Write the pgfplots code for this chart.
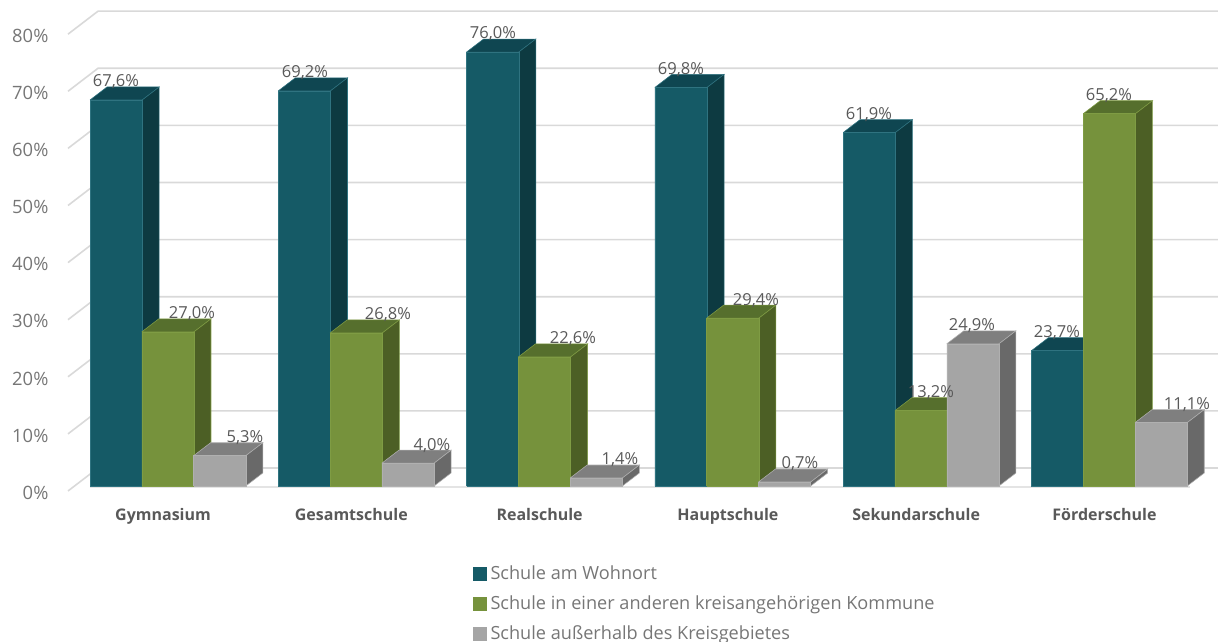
\documentclass[border=0pt]{standalone}
\usepackage{fontspec}
\setmainfont{Open Sans}
\usepackage{pgfplots}
\usepackage{pgfplotstable}
\pgfplotsset{compat=1.18}

\definecolor{tealF}{HTML}{155A66}
\definecolor{tealT}{HTML}{0F4651}
\definecolor{tealS}{HTML}{0D3A41}
\definecolor{tealE}{HTML}{2F7380}
\definecolor{oliveF}{HTML}{76923C}
\definecolor{oliveT}{HTML}{566F2D}
\definecolor{oliveS}{HTML}{4C5F25}
\definecolor{oliveE}{HTML}{7F9C44}
\definecolor{greyF}{HTML}{A5A5A5}
\definecolor{greyT}{HTML}{7F7F7F}
\definecolor{greyS}{HTML}{696969}
\definecolor{greyE}{HTML}{B0B0B0}
\definecolor{gridc}{HTML}{D9D9D9}
\definecolor{ticktext}{HTML}{767676}
\definecolor{labtext}{HTML}{595959}

% a, b, c = values in percent; la, lb, lc = x of the value label in px
\pgfplotstableread{
a    b    c    la   lb   lc
67.6 27.0 5.3  116  192  245
69.2 26.8 4.0  305  388  432
76.0 22.6 1.4  493  573  620
69.8 29.4 0.7  681  756  800
61.9 13.2 24.9 869  931  972
23.7 65.2 11.1 1057 1109 1187
}\schooldata

\pgfplotsset{vallabel/.style={
  forget plot,draw=none,mark=none,point meta=explicit,
  nodes near coords={\pgfmathprintnumber[fixed,fixed zerofill,precision=1,use comma,assume math mode=true]{\pgfplotspointmeta}\%},
  every node near coord/.style={font=\fontsize{12.4}{14}\selectfont,text=labtext,anchor=center,inner sep=0pt},
}}

% row, value column, label column, slot in the group, colour prefix
\newcommand{\drawbar}[5]{%
  \pgfplotstablegetelem{#1}{#2}\of\schooldata \let\val\pgfplotsretval
  \pgfplotstablegetelem{#1}{#3}\of\schooldata \let\lab\pgfplotsretval
  \pgfmathsetmacro\xl{#1+(-73+#4*51.8)/188.3}
  \pgfmathsetmacro\xr{\xl+52.2/188.3}
  \pgfmathsetmacro\xdl{\xl+17/188.3}
  \pgfmathsetmacro\xdr{\xr+17/188.3}
  \pgfmathsetmacro\yd{13/5.71}
  \pgfmathsetmacro\yt{\val+\yd}
  \pgfmathsetmacro\xlab{(\lab-163)/188.3}
  \pgfmathsetmacro\ylab{\val+3.15}
  \addplot[vallabel] coordinates {(\xlab,\ylab)[\val]};
  \addplot[forget plot,fill=#5T,draw=#5E,line width=0.4pt,mark=none]
    coordinates {(\xl,\val)(\xr,\val)(\xdr,\yt)(\xdl,\yt)(\xl,\val)};
  \addplot[forget plot,fill=#5S,draw=#5E,line width=0.4pt,mark=none]
    coordinates {(\xr,0)(\xdr,\yd)(\xdr,\yt)(\xr,\val)(\xr,0)};
  \addplot[forget plot,fill=#5F,draw=#5E,line width=0.4pt,mark=none]
    coordinates {(\xl,0)(\xr,0)(\xr,\val)(\xl,\val)(\xl,0)};
}

\begin{document}
\begin{tikzpicture}[x=1pt,y=1pt]
\path[use as bounding box] (0,0) rectangle (913.5,481.5);
\begin{axis}[
  at={(39pt,114pt)},anchor=south west,
  scale only axis,width=874.5pt,height=367.5pt,
  xmin=-0.5895,xmax=5.603,ymin=-0.7,ymax=85.11,
  clip=false,
  axis line style={draw=none},
  major tick length=0pt,
  xtick={0,...,5},
  xticklabels={Gymnasium,Gesamtschule,Realschule,Hauptschule,Sekundarschule,Förderschule},
  xticklabel style={font=\fontsize{12}{14}\selectfont\bfseries,text=labtext,anchor=north,inner sep=0pt,yshift=-13.8pt},
  ytick={0,10,...,80},
  yticklabels={0\%,10\%,20\%,30\%,40\%,50\%,60\%,70\%,80\%},
  yticklabel style={font=\fontsize{13.8}{16}\selectfont,text=ticktext,anchor=east,inner sep=0pt,xshift=-2.5pt,yshift=-5pt},
  legend image code/.code={\fill[#1] (0pt,-4.9pt) rectangle (9.8pt,4.9pt);},
  legend cell align=left,
  legend style={at={(0.361,-0.155)},anchor=north west,draw=none,fill=none,
    inner sep=0pt,outer sep=0pt,row sep=10.6pt,
    font=\fontsize{13.6}{15}\selectfont,text=ticktext,
    nodes={inner xsep=3pt,inner ysep=0pt}},
]
% back wall lines with their slanted ends
\pgfplotsinvokeforeach{0,10,...,80}{
  \pgfmathsetmacro\ga{(68-163)/188.3}
  \pgfmathsetmacro\gb{(98-163)/188.3}
  \pgfmathsetmacro\ya{#1-0.875}
  \pgfmathsetmacro\yb{#1+3.15}
  \addplot[forget plot,gridc,line width=1.2pt,mark=none]
    coordinates {(\ga,\ya)(\gb,\yb)(5.603,\yb)};
}
% floor edge in front
\pgfmathsetmacro\fa{(90-163)/188.3}
\pgfmathsetmacro\fb{(1190-163)/188.3}
\addplot[forget plot,gridc!70,line width=1pt,mark=none] coordinates {(\fa,-0.15)(\fb,-0.15)};

\pgfplotsinvokeforeach{0,...,5}{
  \drawbar{#1}{a}{la}{0}{teal}
  \drawbar{#1}{b}{lb}{1}{olive}
  \drawbar{#1}{c}{lc}{2}{grey}
}

\addlegendimage{tealF}
\addlegendentry{Schule am Wohnort}
\addlegendimage{oliveF}
\addlegendentry{Schule in einer anderen kreisangehörigen Kommune}
\addlegendimage{greyF}
\addlegendentry{Schule außerhalb des Kreisgebietes}
\end{axis}
\end{tikzpicture}
\end{document}
